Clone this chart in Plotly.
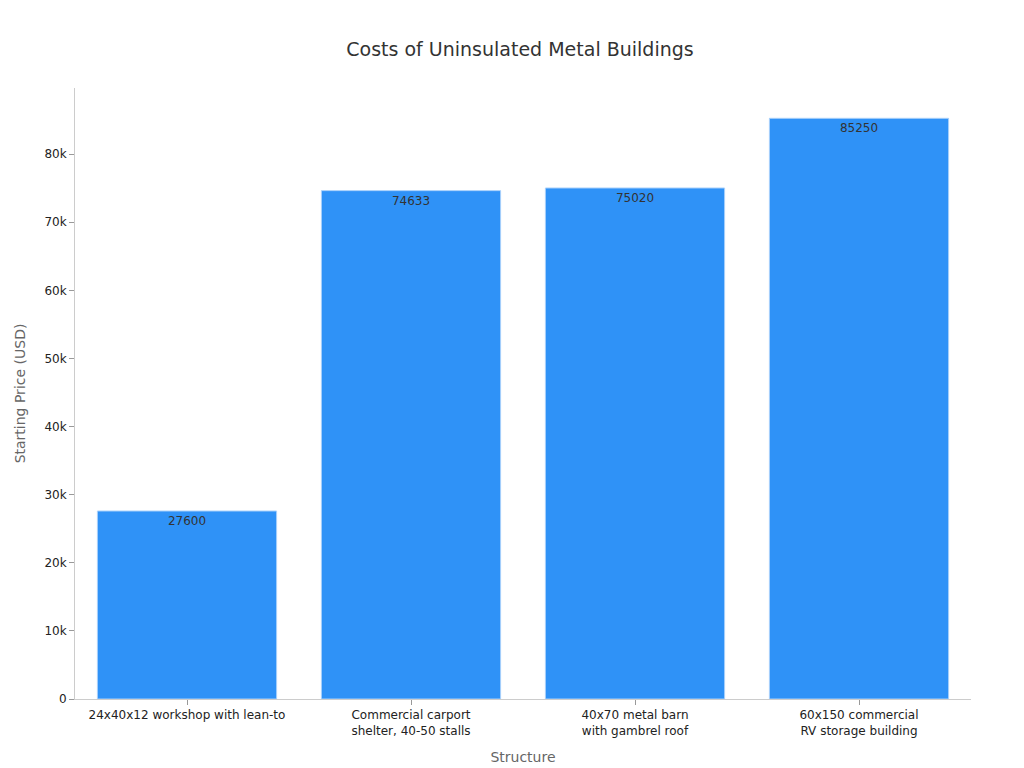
import plotly.graph_objects as go

categories = ["24x40x12 workshop with lean-to", "Commercial carport<br>shelter, 40-50 stalls",
              "40x70 metal barn<br>with gambrel roof", "60x150 commercial<br>RV storage building"]
values = [27600, 74633, 75020, 85250]

fig = go.Figure(go.Bar(x=categories, y=values, text=[str(v) for v in values],
                       textposition="inside", insidetextanchor="end",
                       textfont=dict(color="#333333", size=12),
                       marker=dict(color="#2f92f7", line=dict(color="#a8d0fb", width=1)),
                       width=0.8))
fig.update_layout(
    width=1024, height=768, template="simple_white",
    font=dict(family="DejaVu Sans", size=12, color="#222"),
    title=dict(text="Costs of Uninsulated Metal Buildings", x=0.5, xanchor="center", y=0.955,
               font=dict(size=19, color="#333")),
    margin=dict(l=67, r=61, t=80, b=77),
    xaxis=dict(title=dict(text="Structure", font=dict(color="#666", size=14)), linecolor="#ccc", ticks="outside", tickcolor="#999"),
    yaxis=dict(title=dict(text="Starting Price (USD)", font=dict(color="#666", size=14)), range=[0, 89700],
               linecolor="#ccc", ticks="outside", tickcolor="#999", dtick=10000, tickformat="~s"),
    bargap=0.2, showlegend=False,
)
fig.write_html("out.html")
